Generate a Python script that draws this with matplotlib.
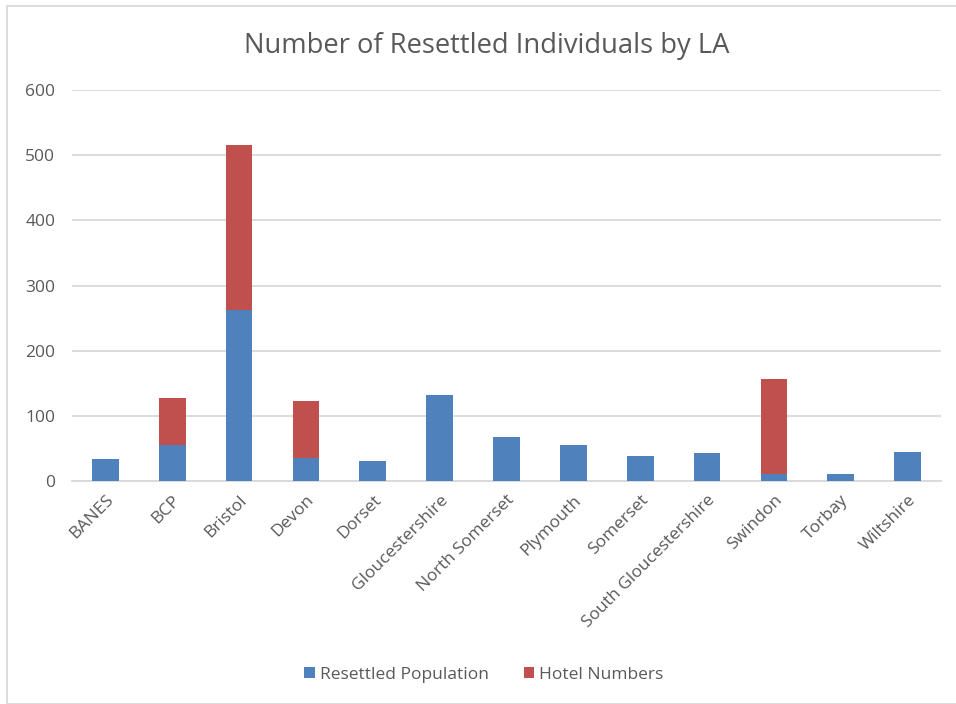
import numpy as np
import matplotlib
matplotlib.use("Agg")
import matplotlib.pyplot as plt
from matplotlib.patches import Rectangle

areas = ['BANES', 'BCP', 'Bristol', 'Devon', 'Dorset', 'Gloucestershire',
         'North Somerset', 'Plymouth', 'Somerset', 'South Gloucestershire',
         'Swindon', 'Torbay', 'Wiltshire']
resettled = [33, 55, 263, 36, 31, 132, 68, 56, 39, 43, 11, 10, 44]
hotel = [0, 72, 253, 87, 0, 0, 0, 0, 0, 0, 146, 0, 0]

blue = '#4F81BD'
red = '#C0504D'
txt = '#595959'

plt.rcParams['font.family'] = ['Open Sans', 'DejaVu Sans']

fig = plt.figure(figsize=(9.56, 7.04), dpi=100)
W, H = 956, 704
ax = fig.add_axes([72 / W, 1 - 481 / H, (941 - 72) / W, (481 - 90) / H])

x = np.arange(len(areas))
ax.bar(x, resettled, width=0.4, color=blue, label='Resettled Population', zorder=3)
ax.bar(x, hotel, width=0.4, bottom=resettled, color=red, label='Hotel Numbers', zorder=3)

ax.set_xlim(-0.5, len(areas) - 0.5)
ax.set_ylim(0, 600)
ax.set_yticks(range(0, 601, 100))
ax.yaxis.grid(True, color='#D9D9D9', linewidth=1.3, zorder=0)
for s in ['top', 'right', 'left']:
    ax.spines[s].set_visible(False)
ax.spines['bottom'].set_color('#D9D9D9')
ax.spines['bottom'].set_linewidth(1.3)
ax.tick_params(axis='both', length=0, colors=txt, labelsize=12.5)
ax.tick_params(axis='y', pad=12)
ax.set_xticks(x)
ax.set_xticklabels(areas, rotation=45, ha='right', rotation_mode='anchor')
ax.tick_params(axis='x', pad=8)

fig.text(487 / W, 1 - 46 / H, 'Number of Resettled Individuals by LA',
         ha='center', va='center', fontsize=19.7, color=txt)

fig.legend(loc='center', bbox_to_anchor=(484 / W, 1 - 675 / H), ncol=2,
           frameon=False, fontsize=12.5, labelcolor=txt, handlelength=0.6,
           handleheight=0.6, handletextpad=0.3, columnspacing=2.0)

fig.patches.append(Rectangle((7 / W, 0), 1, 1 - 6 / H, transform=fig.transFigure,
                             fill=False, edgecolor='#D9D9D9', linewidth=1.3))

fig.savefig('out.png', dpi=100)
